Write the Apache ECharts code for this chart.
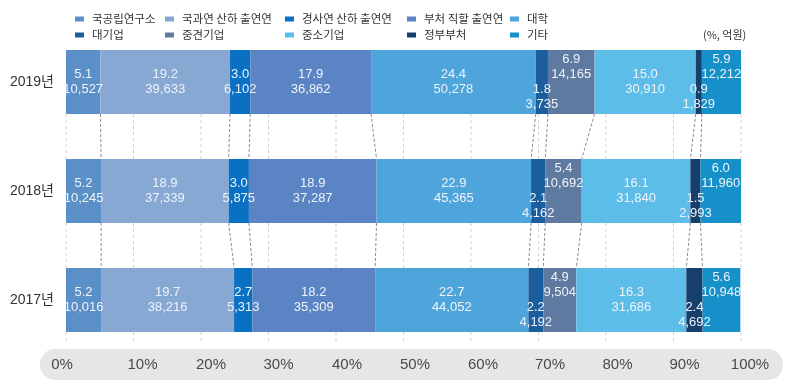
<!DOCTYPE html>
<html>
<head>
<meta charset="utf-8">
<script src="https://cdn.jsdelivr.net/npm/echarts@6/dist/echarts.min.js"></script>
<style>html,body{margin:0;padding:0;background:#fff;}#c{width:800px;height:383px;}</style>
</head>
<body>
<div id="c"></div>
<script>
// ---- data ----
const years = ['2019년', '2018년', '2017년'];
const categories = ['국공립연구소', '국과연 산하 출연연', '경사연 산하 출연연', '부처 직할 출연연', '대학',
                    '대기업', '중견기업', '중소기업', '정부부처', '기타'];
const pct2019 = [5.1, 19.2, 3.0, 17.9, 24.4, 1.8, 6.9, 15.0, 0.9, 5.9];
const amt2019 = [10527, 39633, 6102, 36862, 50278, 3735, 14165, 30910, 1829, 12212];
const pct2018 = [5.2, 18.9, 3.0, 18.9, 22.9, 2.1, 5.4, 16.1, 1.5, 6.0];
const amt2018 = [10245, 37339, 5875, 37287, 45365, 4162, 10692, 31840, 2993, 11960];
const pct2017 = [5.2, 19.7, 2.7, 18.2, 22.7, 2.2, 4.9, 16.3, 2.4, 5.6];
const amt2017 = [10016, 38216, 5313, 35309, 44052, 4192, 9504, 31686, 4692, 10948];
const xTicks = [0, 10, 20, 30, 40, 50, 60, 70, 80, 90, 100];
const unitText = '(%, 억원)';

// ---- style ----
const colors = ['#5b8fc7', '#86a8d2', '#0a70c4', '#5b84c4', '#4ea5dc',
                '#1b5e9e', '#5e7aa0', '#5cbde8', '#173f6c', '#1590c8'];
const FONT_N = "'Liberation Sans','Noto Sans CJK KR',sans-serif";
const FONT_K = "'Noto Sans CJK KR',sans-serif";
const BAR_H = 64;
const labelShift = { '중견기업': -15, '기타': -15, '대기업': 15, '정부부처': 15 };
const xLabelShift = [-4, 9, 10, 10, 11, 11.5, 12, 11.5, 11.5, 11, 9];

const pctRows = [pct2019, pct2018, pct2017];
const amtRows = [amt2019, amt2018, amt2017];

const fmt = n => n.toLocaleString('en-US');

const barSeries = categories.map((name, i) => ({
  name: name,
  type: 'bar',
  stack: 'total',
  barWidth: BAR_H,
  itemStyle: { color: colors[i] },
  data: pctRows.map(r => r[i]),
  label: {
    show: true,
    position: 'inside',
    offset: [0, labelShift[name] || 0],
    color: '#eef3f9',
    fontFamily: FONT_N,
    fontSize: 13,
    lineHeight: 15,
    formatter: p => pctRows[p.dataIndex][i].toFixed(1) + '\n' + fmt(amtRows[p.dataIndex][i])
  },
  emphasis: { disabled: true }
}));

// cumulative boundaries for connectors
const cum = pctRows.map(r => { let s = 0; return r.map(v => (s += v)); });
const connData = [];
for (let r = 0; r < years.length - 1; r++) {
  for (let k = 0; k < categories.length - 1; k++) {
    connData.push([cum[r][k], cum[r + 1][k], r]);
  }
}
const gridData = [];
for (let r = 0; r < years.length; r++) {
  xTicks.forEach(v => gridData.push([v, r]));
}

const connSeries = {
  type: 'custom',
  silent: true,
  z: 1,
  dimensions: ['a', 'b', 'r'],
  encode: { x: [0, 1], y: 2 },
  data: connData,
  renderItem: (params, api) => {
    const r = api.value(2);
    const p1 = api.coord([api.value(0), r]);
    const p2 = api.coord([api.value(1), r + 1]);
    return {
      type: 'line',
      shape: { x1: p1[0], y1: p1[1] + BAR_H / 2, x2: p2[0], y2: p2[1] - BAR_H / 2 },
      style: { stroke: '#8a8a8a', lineWidth: 1, lineDash: [3, 2] }
    };
  }
};

const gridSeries = {
  type: 'custom',
  silent: true,
  z: 0,
  dimensions: ['v', 'r'],
  encode: { x: 0, y: 1 },
  data: gridData,
  renderItem: (params, api) => {
    const r = api.value(1);
    const p1 = api.coord([api.value(0), r]);
    let y2;
    if (r < years.length - 1) {
      y2 = api.coord([api.value(0), r + 1])[1] - BAR_H / 2;
    } else {
      y2 = p1[1] + BAR_H / 2 + 11;
    }
    return {
      type: 'line',
      shape: { x1: p1[0], y1: p1[1] + BAR_H / 2, x2: p1[0], y2: y2 },
      style: { stroke: '#cfcfcf', lineWidth: 1, lineDash: [3, 3] }
    };
  }
};

const legendLefts = [70, 160, 280, 402, 505];
const legends = legendLefts.map((left, c) => ({
  orient: 'vertical',
  left: left,
  top: 8,
  itemWidth: 9,
  itemHeight: 5,
  itemGap: 4,
  icon: 'rect',
  selectedMode: false,
  data: [categories[c], categories[c + 5]],
  textStyle: { color: '#333', fontSize: 11.5, fontFamily: FONT_K, lineHeight: 12, padding: [0, 0, 0, 3] }
}));

const xRich = {};
xTicks.forEach((v, i) => {
  const d = xLabelShift[i];
  xRich['p' + v] = {
    color: '#4a4a4a', fontSize: 15, fontFamily: FONT_N,
    padding: d >= 0 ? [0, 0, 0, 2 * d] : [0, -2 * d, 0, 0]
  };
});

const option = {
  animation: false,
  backgroundColor: '#fff',
  color: colors,
  legend: legends,
  title: {
    text: unitText, left: 698, top: 24,
    textStyle: { color: '#333', fontSize: 11, fontWeight: 'normal', fontFamily: FONT_K }
  },
  graphic: [{
    type: 'rect', z: -10, silent: true,
    shape: { x: 40, y: 349, width: 743, height: 31, r: 15 },
    style: { fill: '#e6e6e6' }
  }],
  grid: { left: 66, right: 59, top: 27.5, bottom: 28.5 },
  xAxis: {
    type: 'value', min: 0, max: 100, interval: 10,
    axisLine: { show: false }, axisTick: { show: false }, splitLine: { show: false },
    axisLabel: {
      margin: 3,
      formatter: v => '{p' + v + '|' + v + '%}',
      rich: xRich
    }
  },
  yAxis: {
    type: 'category', inverse: true, data: years,
    axisLine: { show: false }, axisTick: { show: false },
    axisLabel: { color: '#333', fontSize: 14, fontFamily: FONT_N, margin: 12 }
  },
  series: [gridSeries, connSeries, ...barSeries]
};

const chart = echarts.init(document.getElementById('c'), null, { renderer: 'canvas' });
chart.setOption(option);
</script>
</body>
</html>
